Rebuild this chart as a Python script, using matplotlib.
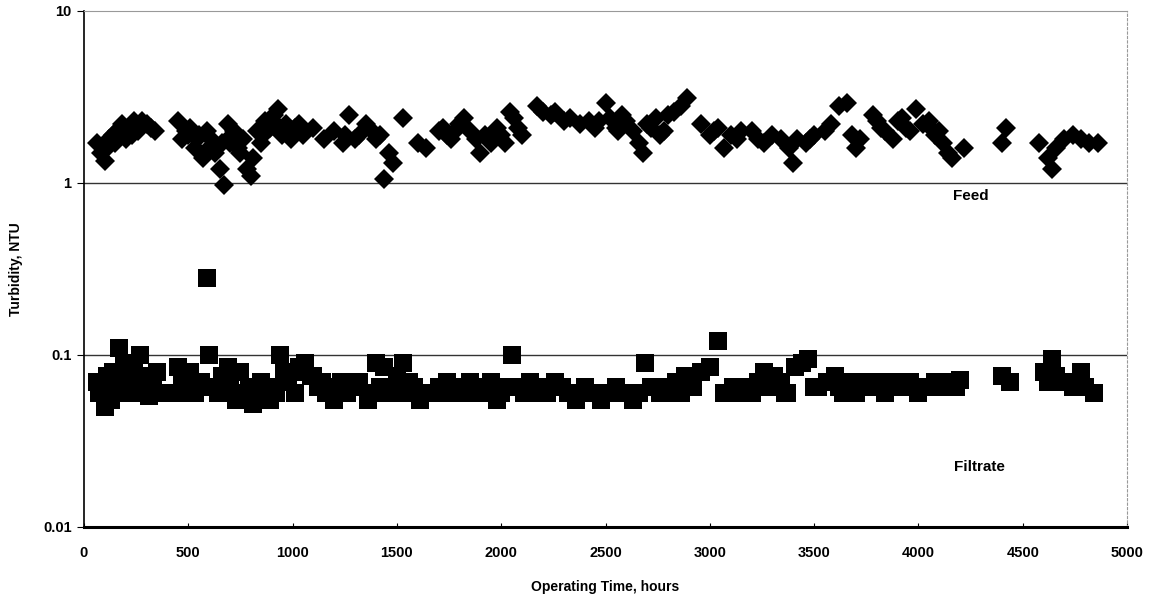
import matplotlib
matplotlib.use("Agg")
import matplotlib.pyplot as plt
from matplotlib.ticker import FixedLocator, FixedFormatter, NullLocator

plt.rcParams['font.family'] = ['Liberation Sans Narrow', 'Liberation Sans', 'DejaVu Sans']

feed_hours = [60, 80, 100, 120, 140, 160, 180, 200, 220, 240, 260, 280, 300, 320, 340,
              450, 470, 490, 510, 530, 550, 570, 590, 610, 630, 650, 670, 690, 700, 720,
              740, 760, 780, 800, 810, 830, 850, 870, 890, 910, 930, 950, 970, 990, 1010,
              1030, 1050, 1060, 1100, 1150, 1200, 1240, 1270, 1300, 1350, 1380, 1400, 1420, 1440,
              1460, 1480, 1530, 1600, 1640, 1700, 1720, 1760, 1800, 1820, 1850, 1880, 1900,
              1920, 1950, 1980, 2000, 2040, 2060, 2080, 2100, 2170, 2200, 2240, 2260, 2330,
              2380, 2420, 2450, 2500, 2520, 2550, 2580, 2600, 2630, 2660, 2680, 2700, 2720,
              2760, 2780, 2800, 2830, 2860, 2890, 2960, 3000, 3040, 3070, 3100, 3150, 3200,
              3260, 3300, 3340, 3380, 3400, 3420, 3460, 3500, 3550, 3580, 3620, 3660, 3680,
              3700, 3720, 3780, 3800, 3840, 3880, 3900, 3920, 3960, 3990, 4020, 4050, 4080,
              4100, 4120, 4140, 4160, 4220, 4400, 4420, 4580, 4620, 4640, 4660, 4700, 4740,
              4780, 4820, 4860,
              110, 150, 230, 500, 540, 600, 660, 710, 750, 860, 920, 1000, 1250, 1320, 1740,
              1780, 2020, 2300, 2470, 2560, 2740, 3020, 3130, 3230, 3480, 3820, 3940, 4060]
feed_ntu = [1.7, 1.5, 1.35, 1.8, 1.9, 2.0, 2.2, 1.8, 2.1, 2.3, 2.0, 2.3, 2.2, 2.1, 2.0,
            2.3, 1.8, 2.0, 2.1, 1.6, 1.9, 1.4, 2.0, 1.8, 1.5, 1.2, 0.97, 2.2, 1.7, 2.0,
            1.6, 1.8, 1.2, 1.1, 1.4, 2.0, 1.7, 2.3, 2.1, 2.5, 2.7, 1.9, 2.2, 1.8, 2.1,
            2.2, 1.9, 2.0, 2.1, 1.8, 2.0, 1.7, 2.5, 1.8, 2.2, 2.0, 1.8, 1.9, 1.05,
            1.5, 1.3, 2.4, 1.7, 1.6, 2.0, 2.1, 1.8, 2.2, 2.4, 2.0, 1.8, 1.5,
            1.9, 1.7, 2.1, 1.9, 2.6, 2.4, 2.1, 1.9, 2.8, 2.6, 2.5, 2.6, 2.4,
            2.2, 2.3, 2.1, 2.9, 2.4, 2.1, 2.5, 2.3, 2.0, 1.7, 1.5, 2.2, 2.1,
            1.9, 2.0, 2.5, 2.6, 2.8, 3.1, 2.2, 1.9, 2.1, 1.6, 1.9, 2.0, 2.0,
            1.7, 1.9, 1.8, 1.6, 1.3, 1.8, 1.7, 1.9, 2.0, 2.2, 2.8, 2.9, 1.9,
            1.6, 1.8, 2.5, 2.3, 2.0, 1.8, 2.3, 2.4, 2.0, 2.7, 2.2, 2.3, 1.9,
            2.0, 1.7, 1.5, 1.4, 1.6, 1.7, 2.1, 1.7, 1.4, 1.2, 1.6, 1.8, 1.9,
            1.8, 1.7, 1.7,
            1.6, 1.7, 1.9, 1.9, 1.8, 1.6, 1.7, 1.9, 1.5, 1.9, 2.2, 2.0, 1.9, 1.9, 1.9,
            2.0, 1.7, 2.3, 2.3, 2.0, 2.4, 2.0, 1.8, 1.8, 1.8, 2.1, 2.1, 2.1]

filtrate_hours = [60, 80, 100, 120, 140, 160, 170, 190, 210, 230, 250, 270, 290, 310, 330, 350,
                  420, 450, 470, 490, 510, 530, 560, 590, 600, 620, 640, 660, 690, 710, 730,
                  750, 770, 790, 810, 830, 850, 870, 890, 920, 940, 960, 980, 1000, 1030, 1060,
                  1090, 1120, 1140, 1160, 1180, 1200, 1230, 1260, 1290, 1320, 1360, 1400, 1420,
                  1440, 1460, 1500, 1530, 1560, 1580, 1610, 1650, 1700, 1740, 1780, 1820, 1850,
                  1880, 1920, 1950, 1980, 2010, 2050, 2080, 2110, 2140, 2180, 2220, 2260, 2290,
                  2320, 2360, 2400, 2440, 2480, 2510, 2550, 2590, 2630, 2660, 2690, 2720, 2760,
                  2800, 2840, 2880, 2920, 2960, 3000, 3040, 3070, 3110, 3150, 3190, 3230, 3260,
                  3290, 3310, 3340, 3370, 3410, 3440, 3470, 3520, 3560, 3600, 3640, 3660, 3700,
                  3740, 3760, 3800, 3840, 3880, 3920, 3960, 4000, 4040, 4080, 4120, 4160, 4200,
                  4400, 4440, 4600, 4640, 4660, 4700, 4740, 4780, 4800, 4840,
                  70, 110, 130, 150, 200, 240, 280, 300, 340, 480, 520, 700, 780, 860, 900,
                  1010, 1100, 1210, 1380, 1480, 1540, 1640, 1720, 1800, 1900, 2000, 2120,
                  2200, 2340, 2420, 2570, 2780, 2860, 3100, 3200, 3360, 3500, 3620, 3720,
                  3860, 3980, 4100, 4180, 4620, 4760]
filtrate_ntu = [0.07, 0.06, 0.05, 0.065, 0.08, 0.07, 0.11, 0.09, 0.075, 0.06, 0.07, 0.1, 0.065, 0.058, 0.07, 0.08,
                0.06, 0.085, 0.075, 0.07, 0.08, 0.06, 0.07, 0.28, 0.1, 0.065, 0.06, 0.075, 0.085, 0.06, 0.055,
                0.08, 0.055, 0.065, 0.052, 0.06, 0.07, 0.06, 0.055, 0.06, 0.1, 0.08, 0.07, 0.08, 0.085, 0.09,
                0.075, 0.065, 0.07, 0.06, 0.065, 0.055, 0.07, 0.06, 0.065, 0.07, 0.055, 0.09, 0.065,
                0.085, 0.06, 0.075, 0.09, 0.07, 0.065, 0.055, 0.06, 0.065, 0.07, 0.06, 0.065, 0.07,
                0.06, 0.065, 0.07, 0.055, 0.065, 0.1, 0.065, 0.06, 0.07, 0.065, 0.06, 0.07, 0.065,
                0.06, 0.055, 0.065, 0.06, 0.055, 0.06, 0.065, 0.06, 0.055, 0.06, 0.09, 0.065, 0.06,
                0.065, 0.07, 0.075, 0.065, 0.08, 0.085, 0.12, 0.06, 0.065, 0.06, 0.065, 0.07, 0.08,
                0.065, 0.075, 0.07, 0.06, 0.085, 0.09, 0.095, 0.065, 0.07, 0.075, 0.06, 0.07, 0.06,
                0.07, 0.065, 0.07, 0.06, 0.07, 0.065, 0.07, 0.06, 0.065, 0.07, 0.065, 0.07, 0.072,
                0.075, 0.07, 0.08, 0.095, 0.075, 0.07, 0.065, 0.08, 0.065, 0.06,
                0.06, 0.075, 0.055, 0.06, 0.065, 0.08, 0.06, 0.075, 0.06, 0.06, 0.065, 0.065, 0.06, 0.055, 0.065,
                0.06, 0.075, 0.06, 0.06, 0.065, 0.06, 0.06, 0.06, 0.06, 0.06, 0.06, 0.06,
                0.06, 0.06, 0.06, 0.06, 0.06, 0.06, 0.06, 0.06, 0.06, 0.065, 0.065, 0.065,
                0.065, 0.065, 0.065, 0.065, 0.07, 0.07]

x_ticks = [0, 500, 1000, 1500, 2000, 2500, 3000, 3500, 4000, 4500, 5000]
y_ticks = [0.01, 0.1, 1, 10]
y_tick_labels = ["0.01", "0.1", "1", "10"]

fig = plt.figure(figsize=(11.56, 6.02), dpi=100)
ax = fig.add_axes([84/1156, 1-527/602, (1127-84)/1156, (527-11)/602])

ax.set_yscale('log')
ax.set_xlim(0, 5000)
ax.set_ylim(0.01, 10)

for yv in [1, 0.1]:
    ax.axhline(yv, color='#333333', lw=1.0, zorder=1)

ax.plot(feed_hours, feed_ntu, linestyle='none', marker='D', markersize=10.2,
        color='black', markeredgewidth=0, zorder=3)
ax.plot(filtrate_hours, filtrate_ntu, linestyle='none', marker='s', markersize=13.5,
        color='black', markeredgewidth=0, zorder=3)

ax.xaxis.set_major_locator(FixedLocator(x_ticks))
ax.yaxis.set_major_locator(FixedLocator(y_ticks))
ax.yaxis.set_major_formatter(FixedFormatter(y_tick_labels))
ax.yaxis.set_minor_locator(NullLocator())

for lab in ax.get_xticklabels() + ax.get_yticklabels():
    lab.set_fontweight('bold')
ax.tick_params(axis='x', direction='in', length=3, labelsize=10.5, pad=14)
ax.tick_params(axis='y', direction='out', length=5, labelsize=10.5, pad=4)

ax.spines['left'].set_linewidth(1.2)
ax.spines['bottom'].set_linewidth(2.2)
ax.spines['top'].set_color('#999999')
ax.spines['top'].set_linewidth(0.8)
ax.spines['right'].set_color('#999999')
ax.spines['right'].set_linewidth(0.8)
ax.spines['right'].set_linestyle((0, (2, 2)))

ax.set_xlabel('Operating Time, hours', fontsize=10, fontweight='bold', labelpad=14)
ax.set_ylabel('Turbidity, NTU', fontsize=10, fontweight='bold', labelpad=14)

ax.text(4250, 0.84, 'Feed', fontsize=11, fontweight='bold', ha='center', va='center')
ax.text(4295, 0.0223, 'Filtrate', fontsize=11, fontweight='bold', ha='center', va='center')

fig.savefig('out.png', dpi=100)
